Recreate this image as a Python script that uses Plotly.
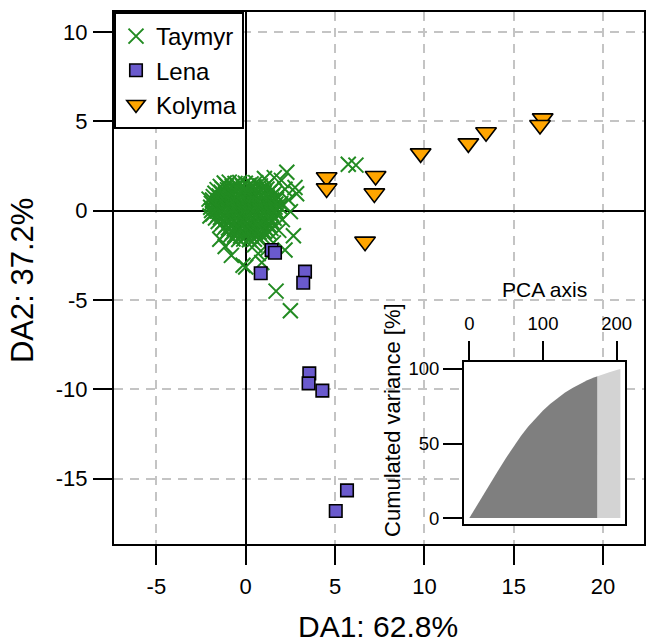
import plotly.graph_objects as go

# ---------------- data ----------------
taymyr_x = [
    -1.2, -0.92, -0.6, -0.33, -0.02, 0.3, 0.56,
    -1.42, -1.07, -0.76, -0.44, -0.17, 0.16, 0.47, 0.82, 1.13,
    -1.6, -1.31, -1.02, -0.68, -0.41, -0.09, 0.22, 0.51, 0.86, 1.19, 1.48,
    -1.72, -1.38, -1.12, -0.79, -0.52, -0.18, 0.09, 0.42, 0.71, 1.02, 1.31, 1.62,
    -1.81, -1.49, -1.21, -0.88, -0.61, -0.29, 0.02, 0.31, 0.62, 0.88, 1.21, 1.49, 1.76,
    -1.86, -1.56, -1.24, -0.96, -0.63, -0.36, -0.04, 0.26, 0.54, 0.86, 1.14, 1.46, 1.72,
    -1.92, -1.61, -1.29, -1.01, -0.69, -0.41, -0.11, 0.21, 0.49, 0.81, 1.09, 1.41, 1.69, 1.96,
    -1.96, -1.66, -1.34, -1.06, -0.74, -0.46, -0.14, 0.16, 0.44, 0.76, 1.04, 1.36, 1.64, 1.91,
    -1.91, -1.59, -1.31, -0.99, -0.71, -0.39, -0.09, 0.19, 0.51, 0.79, 1.11, 1.39, 1.71,
    -1.84, -1.54, -1.26, -0.94, -0.66, -0.34, -0.06, 0.24, 0.56, 0.84, 1.16, 1.44, 1.74,
    -1.69, -1.41, -1.09, -0.81, -0.49, -0.21, 0.11, 0.39, 0.71, 0.99, 1.31, 1.59,
    -1.54, -1.26, -0.94, -0.66, -0.34, -0.06, 0.26, 0.54, 0.86, 1.14, 1.46,
    -1.41, -1.09, -0.81, -0.49, -0.21, 0.11, 0.39, 0.71, 0.99, 1.31,
    -1.24, -0.96, -0.64, -0.36, -0.04, 0.24, 0.56, 0.84, 1.16, 1.41,
    -1.06, -0.74, -0.46, -0.14, 0.16, 0.44, 0.76, 1.04, 1.31,
    -0.89, -0.61, -0.29, 0.01, 0.31, 0.59, 0.91,
    -0.71, -0.39, -0.11, 0.21, 0.49, 0.79,
    2.3, 2.0, 1.6, 1.05, 2.76, 2.85, 2.5, 2.05, 2.67, 2.2, 0.5, 0.0, -0.15,
    -1.15, -0.8, 0.7, 0.9, 1.7, 2.5, 5.74, 6.17, 1.25, 1.55, -2.05, -2.0,
    -1.45, 2.2, 1.85, 2.4,
]
taymyr_y = [
    1.55, 1.6, 1.52, 1.58, 1.54, 1.5, 1.57,
    1.36, 1.41, 1.35, 1.4, 1.37, 1.42, 1.34, 1.39, 1.36,
    1.18, 1.23, 1.17, 1.22, 1.19, 1.16, 1.24, 1.2, 1.17, 1.22, 1.19,
    0.98, 1.03, 0.97, 1.01, 1.04, 0.99, 1.02, 0.96, 1.03, 0.98, 1.01, 0.97,
    0.79, 0.82, 0.77, 0.81, 0.78, 0.83, 0.8, 0.76, 0.82, 0.79, 0.77, 0.81, 0.78,
    0.6, 0.57, 0.62, 0.58, 0.61, 0.59, 0.56, 0.62, 0.58, 0.61, 0.57, 0.6, 0.63,
    0.41, 0.38, 0.43, 0.39, 0.42, 0.37, 0.4, 0.43, 0.38, 0.41, 0.39, 0.42, 0.38, 0.4,
    0.19, 0.22, 0.18, 0.21, 0.17, 0.2, 0.23, 0.18, 0.21, 0.19, 0.22, 0.17, 0.2, 0.21,
    0.01, -0.02, 0.03, -0.01, 0.02, -0.03, 0.0, 0.03, -0.02, 0.01, -0.01, 0.02, -0.02,
    -0.19, -0.22, -0.18, -0.21, -0.17, -0.2, -0.23, -0.18, -0.21, -0.19, -0.22, -0.17, -0.2,
    -0.41, -0.38, -0.42, -0.39, -0.43, -0.4, -0.37, -0.42, -0.39, -0.41, -0.38, -0.42,
    -0.6, -0.63, -0.58, -0.61, -0.59, -0.62, -0.57, -0.61, -0.59, -0.62, -0.6,
    -0.79, -0.82, -0.78, -0.81, -0.77, -0.8, -0.83, -0.78, -0.81, -0.79,
    -1.0, -0.97, -1.02, -0.99, -1.03, -0.98, -1.01, -0.97, -1.02, -0.99,
    -1.19, -1.22, -1.18, -1.21, -1.17, -1.23, -1.2, -1.18, -1.21,
    -1.4, -1.37, -1.42, -1.39, -1.41, -1.38, -1.42,
    -1.58, -1.61, -1.59, -1.62, -1.6, -1.57,
    2.15, 1.7, 1.85, 1.8, 1.3, 0.95, -0.05, -0.5, -1.4, -2.2, -1.9, -3.15, -3.05,
    -2.0, -2.5, -2.4, -2.9, -4.5, -5.6, 2.6, 2.55, -2.1, -1.8, 0.65, -0.3,
    -1.6, 1.2, -1.1, 0.6,
]

lena_x = [1.45, 1.64, 0.84, 3.32, 3.22, 3.56, 3.52, 4.29, 5.67, 5.04]
lena_y = [-2.2, -2.35, -3.5, -3.41, -4.03, -9.1, -9.66, -10.07, -15.65, -16.8]

kolyma_x = [4.53, 4.53, 7.27, 7.2, 6.68, 9.79, 12.46, 13.45, 16.62, 16.47]
kolyma_y = [1.87, 1.25, 1.94, 0.97, -1.73, 3.21, 3.77, 4.39, 5.17, 4.8]

# inset: cumulated variance of PCA axes (retained / not retained)
pca_axis_kept = [0, 10, 20, 30, 40, 50, 60, 70, 80, 90, 100, 110, 120, 130, 140, 150, 160, 170, 174]
cumvar_kept = [0, 8.3, 16.5, 24.5, 32.5, 40.5, 48, 55, 61.5, 67.2, 72.2, 76.7, 80.7, 84.2, 87.3, 90, 92.4, 94.4, 95.2]
pca_axis_rest = [174, 180, 190, 200, 205]
cumvar_rest = [95.2, 96.3, 97.9, 99.3, 100]

main_xticks = [-5, 0, 5, 10, 15, 20]
main_xticklabels = ["-5", "0", "5", "10", "15", "20"]
main_yticks = [-15, -10, -5, 0, 5, 10]
main_yticklabels = ["-15", "-10", "-5", "0", "5", "10"]
inset_xticks = [0, 100, 200]
inset_yticks = [0, 50, 100]

FONT = "Liberation Sans, Arial, sans-serif"

fig = go.Figure()

fig.add_trace(go.Scatter(
    x=taymyr_x, y=taymyr_y, mode="markers", name="Taymyr",
    marker=dict(symbol="x-thin-open", size=15, color="#228B22",
                line=dict(width=2, color="#228B22")),
))
fig.add_trace(go.Scatter(
    x=lena_x, y=lena_y, mode="markers", name="Lena",
    marker=dict(symbol="square", size=12.5, color="#6A5ACD",
                line=dict(width=1.6, color="black")),
))
fig.add_trace(go.Scatter(
    x=kolyma_x, y=kolyma_y, mode="markers", name="Kolyma",
    marker=dict(symbol="triangle-down", size=18, color="#FFA500",
                line=dict(width=1.6, color="black")),
))

# inset polygons
dark_x = pca_axis_kept + [pca_axis_kept[-1], pca_axis_kept[0]]
dark_y = cumvar_kept + [0, 0]
light_x = pca_axis_rest + [pca_axis_rest[-1], pca_axis_rest[0]]
light_y = cumvar_rest + [0, 0]
fig.add_trace(go.Scatter(x=dark_x, y=dark_y, xaxis="x2", yaxis="y2", mode="lines",
                         fill="toself", fillcolor="#7F7F7F", line=dict(width=0),
                         showlegend=False, hoverinfo="skip"))
fig.add_trace(go.Scatter(x=light_x, y=light_y, xaxis="x2", yaxis="y2", mode="lines",
                         fill="toself", fillcolor="#D3D3D3", line=dict(width=0),
                         showlegend=False, hoverinfo="skip"))

ax_common = dict(
    showline=True, mirror=True, linecolor="black", linewidth=2,
    ticks="outside", ticklen=19, tickwidth=2, tickcolor="black",
    tickfont=dict(size=22, color="black", family=FONT),
    automargin=False,
)

inset_x_range = [-7.2, 211.3]
inset_y_range = [-4.0, 104.7]

fig.update_layout(
    width=646, height=643, autosize=False,
    margin=dict(l=114, r=2, t=12, b=99),
    paper_bgcolor="white", plot_bgcolor="white",
    font=dict(family=FONT, color="black"),
    showlegend=True,
    legend=dict(x=0, y=1, xanchor="left", yanchor="top",
                bgcolor="white", bordercolor="black", borderwidth=2,
                font=dict(size=24, color="black", family=FONT),
                tracegroupgap=0),
    xaxis=dict(range=[-7.37, 22.29], tickvals=main_xticks, ticktext=main_xticklabels,
               **ax_common,
               showgrid=True, gridcolor="#C4C4C4", gridwidth=1.8, griddash="9px,7px",
               zeroline=True, zerolinecolor="black", zerolinewidth=1.6,
               ticklabelstandoff=3),
    yaxis=dict(range=[-18.65, 11.12], tickvals=main_yticks, ticktext=main_yticklabels,
               **ax_common,
               showgrid=True, gridcolor="#C4C4C4", gridwidth=1.8, griddash="9px,7px",
               zeroline=True, zerolinecolor="black", zerolinewidth=1.6,
               ticklabelstandoff=1),
    xaxis2=dict(domain=[0.6604, 0.9642], anchor="y2", side="top",
                range=inset_x_range, tickvals=inset_xticks,
                showline=True, mirror=True, linecolor="black", linewidth=2,
                ticks="outside", ticklen=19, tickwidth=2, tickcolor="black",
                tickfont=dict(size=18.5, color="black", family=FONT),
                ticklabelstandoff=4,
                showgrid=False, zeroline=False, automargin=False),
    yaxis2=dict(domain=[0.0376, 0.3421], anchor="x2",
                range=inset_y_range, tickvals=inset_yticks,
                showline=True, mirror=True, linecolor="black", linewidth=2,
                ticks="outside", ticklen=19, tickwidth=2, tickcolor="black",
                tickfont=dict(size=18.5, color="black", family=FONT),
                showgrid=False, zeroline=False, automargin=False),
    shapes=[dict(type="rect", xref="x2", yref="y2",
                 x0=inset_x_range[0], x1=inset_x_range[1],
                 y0=inset_y_range[0], y1=inset_y_range[1],
                 fillcolor="white", line=dict(width=0), layer="below")],
    annotations=[
        dict(text="DA1: 62.8%", xref="paper", yref="paper", x=0.498, y=-0.155,
             xanchor="center", yanchor="middle", showarrow=False,
             font=dict(size=30, family=FONT, color="black")),
        dict(text="DA2: 37.2%", xref="paper", yref="paper", x=-0.1736, y=0.496,
             xanchor="center", yanchor="middle", showarrow=False, textangle=-90,
             font=dict(size=31, family=FONT, color="black")),
        dict(text="PCA axis", xref="paper", yref="paper", x=0.8132, y=0.4793,
             xanchor="center", yanchor="middle", showarrow=False,
             font=dict(size=21, family=FONT, color="black")),
        dict(text="Cumulated variance [%]", xref="paper", yref="paper", x=0.5264, y=0.2331,
             xanchor="center", yanchor="middle", showarrow=False, textangle=-90,
             font=dict(size=22, family=FONT, color="black")),
    ],
)

post = (
    "document.body.style.margin='0';"
    "document.body.style.overflow='hidden';"
    "var gd=document.getElementById('{plot_id}');"
    "Plotly.relayout(gd,{width:646,height:643});"
)
fig.write_html("out.html", post_script=post, config={"displayModeBar": False})
